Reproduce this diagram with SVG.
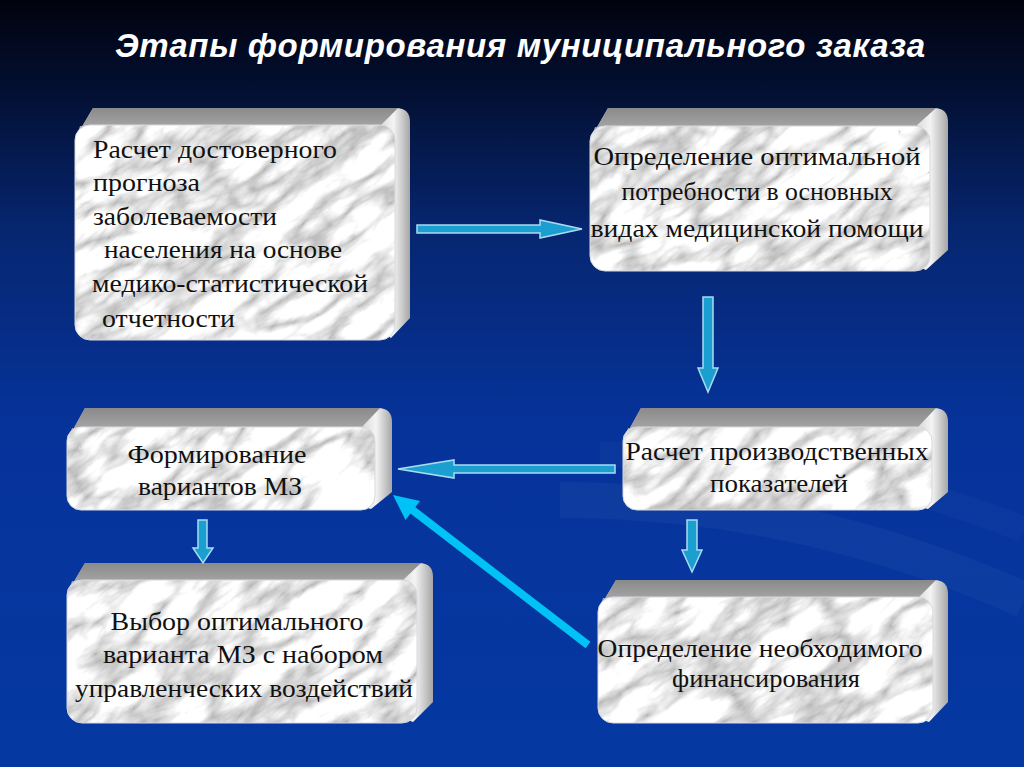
<svg xmlns="http://www.w3.org/2000/svg" width="1024" height="767" viewBox="0 0 1024 767">
<defs>
<linearGradient id="bg" x1="0" y1="0" x2="0" y2="1">
<stop offset="0" stop-color="#01020e"/>
<stop offset="0.12" stop-color="#031033"/>
<stop offset="0.3" stop-color="#062670"/>
<stop offset="0.55" stop-color="#06339a"/>
<stop offset="1" stop-color="#0538a2"/>
</linearGradient>
<linearGradient id="topG" x1="0" y1="0" x2="0" y2="1">
<stop offset="0" stop-color="#8a8a8a"/>
<stop offset="1" stop-color="#b0b0b0"/>
</linearGradient>
<linearGradient id="sideG" x1="0" y1="0" x2="1" y2="0">
<stop offset="0" stop-color="#c8c8c8"/>
<stop offset="0.9" stop-color="#d4d4d4"/>
<stop offset="0.95" stop-color="#f4f4f4"/>
<stop offset="1" stop-color="#a6a6a6"/>
</linearGradient>
<filter id="marbleF" x="0" y="0" width="1" height="1" color-interpolation-filters="sRGB">
<feTurbulence type="turbulence" baseFrequency="0.012 0.03" numOctaves="4" seed="11" result="n"/>
<feColorMatrix in="n" type="matrix" values="0.75 0 0 0 0.7  0.75 0 0 0 0.7  0.75 0 0 0 0.7  0 0 0 0 1"/>
</filter>
<pattern id="marble" patternUnits="userSpaceOnUse" x="-400" y="-400" width="1800" height="1800" patternTransform="rotate(-35 512 384)">
<rect x="0" y="0" width="1800" height="1800" fill="#ddd" filter="url(#marbleF)"/>
</pattern>
<style>
.side{fill:url(#sideG)}
.top{fill:url(#topG)}
.face{fill:url(#marble);stroke:#d6d9e2;stroke-width:1}
.t{font-family:"Liberation Serif","DejaVu Serif",serif;font-size:26px;fill:#111}
.c{text-anchor:middle}
.blk{fill:#1a9fd0;stroke:#a9dcf0;stroke-width:1.5;stroke-linejoin:miter}
.title{font-family:"Liberation Sans",Arial,sans-serif;font-size:33px;font-weight:bold;font-style:italic;fill:#fff;text-anchor:middle}
</style>
</defs>

<rect x="0" y="0" width="1024" height="767" fill="url(#bg)"/>
<path d="M560 500 Q800 500 1024 600" fill="none" stroke="#ffffff" stroke-opacity="0.035" stroke-width="36"/>
<path d="M600 455 Q830 450 1024 530" fill="none" stroke="#ffffff" stroke-opacity="0.025" stroke-width="26"/>

<text class="title" x="520" y="57" textLength="810">Этапы формирования муниципального заказа</text>

<g id="node1">
<path class="side" d="M77 135 L93 108 L396 108 Q410 108 410 122 L410 318 L391 338 Z"/>
<path class="top" d="M77 135 L93 108 L398 108 L380 126 L80 126 Z"/>
<rect class="face" x="75" y="125" width="320" height="215" rx="15"/>
<text class="t" x="93" y="158" textLength="244" lengthAdjust="spacingAndGlyphs">Расчет достоверного</text>
<text class="t" x="93" y="191" textLength="107" lengthAdjust="spacingAndGlyphs">прогноза</text>
<text class="t" x="93" y="225" textLength="184" lengthAdjust="spacingAndGlyphs">заболеваемости</text>
<text class="t" x="104" y="258" textLength="238" lengthAdjust="spacingAndGlyphs">населения на основе</text>
<text class="t" x="92" y="292" textLength="276" lengthAdjust="spacingAndGlyphs">медико-статистической</text>
<text class="t" x="102" y="327" textLength="133" lengthAdjust="spacingAndGlyphs">отчетности</text>
</g>

<g id="node2">
<path class="side" d="M592 136 L608 108 L934 108 Q948 108 948 122 L948 250 L926 270 Z"/>
<path class="top" d="M592 136 L608 108 L936 108 L915 127 L595 127 Z"/>
<rect class="face" x="590" y="126" width="340" height="145" rx="15"/>
<text class="t c" x="757" y="165" textLength="327" lengthAdjust="spacingAndGlyphs">Определение оптимальной</text>
<text class="t c" x="757" y="200" textLength="271" lengthAdjust="spacingAndGlyphs">потребности в основных</text>
<text class="t c" x="757" y="237" textLength="333" lengthAdjust="spacingAndGlyphs">видах медицинской помощи</text>
</g>

<g id="node3">
<path class="side" d="M69 437 L85 408 L378 408 Q392 408 392 422 L392 492 L371 509 Z"/>
<path class="top" d="M69 437 L85 408 L380 408 L361 428 L72 428 Z"/>
<rect class="face" x="67" y="427" width="308" height="83" rx="14"/>
<text class="t c" x="217" y="463" textLength="179" lengthAdjust="spacingAndGlyphs">Формирование</text>
<text class="t c" x="220" y="495" textLength="164" lengthAdjust="spacingAndGlyphs">вариантов МЗ</text>
</g>

<g id="node4">
<path class="side" d="M625 437 L641 408 L934 408 Q948 408 948 422 L948 492 L928 509 Z"/>
<path class="top" d="M625 437 L641 408 L936 408 L917 428 L628 428 Z"/>
<rect class="face" x="623" y="427" width="309" height="83" rx="14"/>
<text class="t c" x="777" y="460" textLength="303" lengthAdjust="spacingAndGlyphs">Расчет производственных</text>
<text class="t c" x="779" y="492" textLength="138" lengthAdjust="spacingAndGlyphs">показателей</text>
</g>

<g id="node5">
<path class="side" d="M69 590 L85 563 L419 563 Q433 563 433 577 L433 702 L413 722 Z"/>
<path class="top" d="M69 590 L85 563 L421 563 L402 581 L72 581 Z"/>
<rect class="face" x="67" y="580" width="350" height="143" rx="15"/>
<text class="t c" x="237" y="630" textLength="253" lengthAdjust="spacingAndGlyphs">Выбор оптимального</text>
<text class="t c" x="243" y="663" textLength="280" lengthAdjust="spacingAndGlyphs">варианта МЗ с набором</text>
<text class="t c" x="244" y="697" textLength="338" lengthAdjust="spacingAndGlyphs">управленческих воздействий</text>
</g>

<g id="node6">
<path class="side" d="M600 607 L616 580 L934 580 Q948 580 948 594 L948 702 L929 722 Z"/>
<path class="top" d="M600 607 L616 580 L936 580 L918 598 L603 598 Z"/>
<rect class="face" x="598" y="597" width="335" height="126" rx="15"/>
<text class="t c" x="760" y="657" textLength="325" lengthAdjust="spacingAndGlyphs">Определение необходимого</text>
<text class="t c" x="766" y="687" textLength="188" lengthAdjust="spacingAndGlyphs">финансирования</text>
</g>

<g id="connectors">
<path class="blk" d="M417 225 L540 225 L540 220 L582 229 L540 238 L540 233 L417 233 Z"/>
<path class="blk" d="M703 297 L713 297 L713 368 L718 368 L708 392 L698 368 L703 368 Z"/>
<path class="blk" d="M615 465 L454 465 L454 460 L398 469 L454 478 L454 473 L615 473 Z"/>
<path class="blk" d="M198 520 L207 520 L207 548 L213 548 L203 563 L193 548 L198 548 Z"/>
<path class="blk" d="M687 520 L697 520 L697 550 L702 550 L692 572 L682 550 L687 550 Z"/>
<line x1="588" y1="645" x2="406" y2="505" stroke="#00c2f5" stroke-width="8"/>
<path d="M393 495 L420 501 L405.5 520 Z" fill="#00c2f5"/>
</g>
</svg>
